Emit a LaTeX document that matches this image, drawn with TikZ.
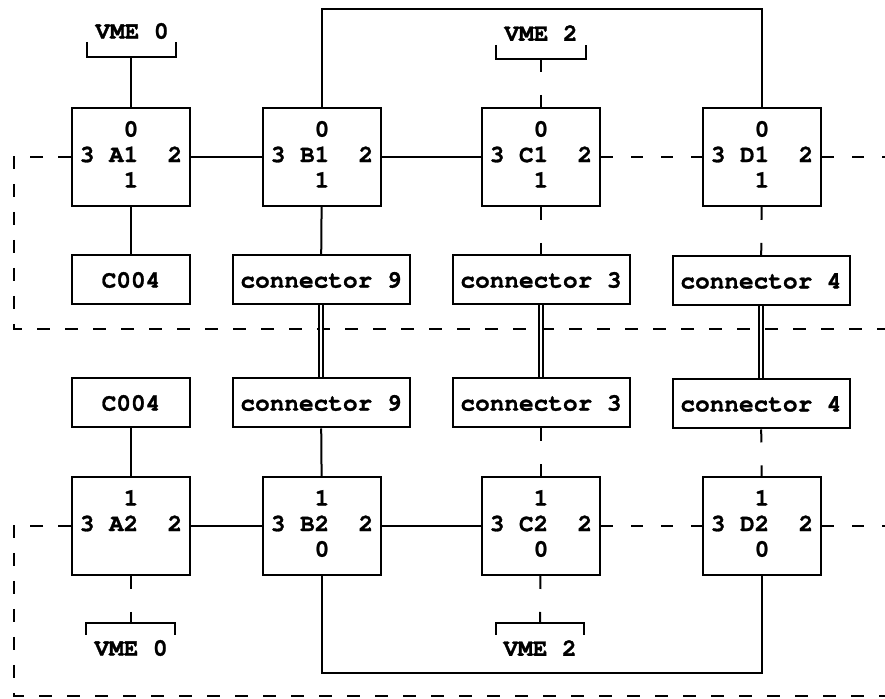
\documentclass[tikz,border=0pt]{standalone}
\usepackage{fontspec}
\newfontfamily\courierfont[BoldFeatures={FakeBold=1.2}]{TeX Gyre Cursor}
\newcommand\ports[3]{\strut\ \ \ #1\\\strut 3 #2\ \ 2\\\strut\ \ \ #3}
\begin{document}
\begin{tikzpicture}[x=0.5pt, y=-0.5pt, line width=1pt,
    font=\courierfont\bfseries\fontsize{12.2}{12.75}\selectfont,
    unit/.style={draw, minimum width=59pt, minimum height=49pt, align=left, inner sep=0pt},
    conn/.style={draw, minimum width=88.5pt, minimum height=24.5pt, inner sep=0pt},
    short/.style={conn, minimum width=59pt},
    brokenline/.style={dash pattern=on 6pt off 9pt},
    stub/.style={dash pattern=on 6.5pt off 11.5pt},
    loopline/.style={dash pattern=on 6.5pt off 7.5pt},
    bus/.style={double, double distance=1pt, line width=0.8pt}]
    \useasboundingbox (0,0) rectangle (885,699);

    % upper half: units A1..D1
    \node[unit] (A1) at (131,157) {\ports{0}{A1}{1}};
    \node[unit] (B1) at (322,157) {\ports{0}{B1}{1}};
    \node[unit] (C1) at (541,157) {\ports{0}{C1}{1}};
    \node[unit] (D1) at (762,157) {\ports{0}{D1}{1}};

    \node[short] (kA1) at (131,280) {C004\ };
    \node[conn]  (kB1) at (321,280) {connector 9};
    \node[conn]  (kC1) at (541,280) {connector 3};
    \node[conn]  (kD1) at (761,281) {connector 4};

    % lower half: units A2..D2
    \node[short] (kA2) at (131,403) {C004\ };
    \node[conn]  (kB2) at (321,403) {connector 9};
    \node[conn]  (kC2) at (541,403) {connector 3};
    \node[conn]  (kD2) at (761,404) {connector 4};

    \node[unit] (A2) at (131,526) {\ports{1}{A2}{}};
    \node[unit] (B2) at (322,526) {\ports{1}{B2}{0}};
    \node[unit] (C2) at (541,526) {\ports{1}{C2}{0}};
    \node[unit] (D2) at (762,526) {\ports{1}{D2}{0}};

    % VME brackets
    \node (tA1) at (132,31) {VME 0};
    \node (tC1) at (541,33) {VME 2};
    \node (tA2) at (131,648) {VME 0};
    \node (tC2) at (540,648) {VME 2};
    \coordinate (vA1) at (131,57);
    \coordinate (vC1) at (541,59);
    \coordinate (vA2) at (131,623);
    \coordinate (vC2) at (540,623);
    \draw (vA1) ++(-44,-15) -- ++(0,15) -- ++(89,0) -- ++(0,-15);
    \draw (vC1) ++(-45,-14) -- ++(0,14) -- ++(90,0) -- ++(0,-14);
    \draw (vA2) ++(-45,12) -- ++(0,-12) -- ++(89,0) -- ++(0,12);
    \draw (vC2) ++(-44,12) -- ++(0,-12) -- ++(88,0) -- ++(0,12);

    % edge coordinates
    \coordinate (topbus) at (541,9);
    \coordinate (botbus) at (541,673);
    \coordinate (westU) at (14,329);
    \coordinate (eastU) at (885,329);
    \coordinate (westL) at (14,696);
    \coordinate (eastL) at (885,696);
    \coordinate (eastD1) at (885,157);
    \coordinate (eastD2) at (885,526);

    % solid links
    \draw (vA1) -- (A1);
    \draw (A1) -- (B1);
    \draw (B1) -- (C1);
    \draw (A1) -- (kA1);
    \draw (B1) -- (kB1);
    \draw (kA2) -- (A2);
    \draw (kB2) -- (B2);
    \draw (A2) -- (B2);
    \draw (B2) -- (C2);
    \draw (B1.north) -- (B1.north |- topbus) -| (D1.north);
    \draw (B2.south) -- (B2.south |- botbus) -| (D2.south);

    % broken links
    \draw[stub] (vC1) -- (C1);
    \draw[stub] (C1) -- (kC1);
    \draw[stub] (D1) -- (kD1);
    \draw[stub] (kC2) -- (C2);
    \draw[stub] (kD2) -- (D2);
    \draw[stub] (A2) -- (vA2);
    \draw[stub] (C2) -- (vC2);
    \draw[brokenline] (C1) -- (D1);
    \draw[brokenline] (D1) -- (eastD1);
    \draw[brokenline] (C2) -- (D2);
    \draw[brokenline] (D2) -- (eastD2);
    \draw[loopline] (A1.west) -| (westU) -- (eastU);
    \draw[loopline] (A2.west) -| (westL) -- (eastL);

    % connector cables
    \draw[bus] (kB1) -- (kB2);
    \draw[bus] (kC1) -- (kC2);
    \draw[bus] (kD1) -- (kD2);
\end{tikzpicture}
\end{document}
